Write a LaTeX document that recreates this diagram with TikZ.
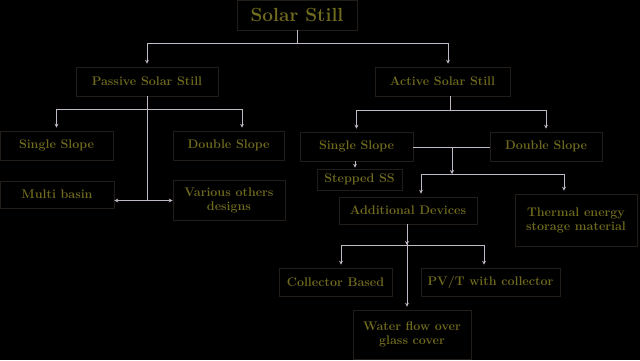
\documentclass[tikz,border=0pt]{standalone}
\usepackage{tikz}
\usetikzlibrary{arrows.meta}
\definecolor{txtolive}{RGB}{112,106,30}
\definecolor{boxedge}{RGB}{34,29,24}
\definecolor{linkgray}{RGB}{192,184,196}
\tikzset{
  stillbox/.style={draw=boxedge,line width=0.6pt,text=txtolive,inner sep=0pt,align=center,
    font=\fontsize{12.5}{14}\selectfont\bfseries},
  link/.style={draw=linkgray,line width=0.8pt},
  linkarrow/.style={link,-{Stealth[length=4pt,width=4pt]},shorten >=3pt}
}
\begin{document}
\begin{tikzpicture}[x=1pt,y=-1pt]
\fill[black] (0,0) rectangle (640,360);
\useasboundingbox (0,0) rectangle (640,360);
\node[stillbox,minimum width=120pt,minimum height=30pt,font=\fontsize{19}{22}\selectfont\bfseries] (still) at (297,15) {Solar Still};
\node[stillbox,minimum width=142pt,minimum height=29pt] (passive) at (147,81.5) {Passive Solar Still};
\node[stillbox,minimum width=135pt,minimum height=29pt] (active) at (442.5,81.5) {Active Solar Still};
\node[stillbox,minimum width=113pt,minimum height=29pt] (psingle) at (56.5,145.5) {Single Slope};
\node[stillbox,minimum width=111pt,minimum height=29pt] (pdouble) at (228.5,145.5) {Double Slope};
\node[stillbox,minimum width=114pt,minimum height=27pt] (multi) at (57,194.5) {Multi basin};
\node[stillbox,minimum width=112pt,minimum height=40pt] (various) at (229,200) {Various others\\designs};
\node[stillbox,minimum width=113pt,minimum height=29pt] (asingle) at (356.5,146.5) {Single Slope};
\node[stillbox,minimum width=112pt,minimum height=29pt] (adouble) at (546,146.5) {Double Slope};
\node[stillbox,minimum width=85pt,minimum height=21pt] (stepped) at (359.5,179.5) {Stepped SS};
\node[stillbox,minimum width=138pt,minimum height=27pt] (adddev) at (408,210.5) {Additional Devices};
\node[stillbox,minimum width=122pt,minimum height=52pt] (thermal) at (576,220) {Thermal energy\\storage material};
\node[stillbox,minimum width=113pt,minimum height=28pt] (collector) at (335.5,282) {Collector Based};
\node[stillbox,minimum width=139pt,minimum height=28pt] (pvt) at (490.5,282) {PV/T with collector};
\node[stillbox,minimum width=118pt,minimum height=49pt] (water) at (412,334.5) {Water flow over\\glass cover};
\coordinate (jtop) at (297,43);
\coordinate (jpass) at (147,109);
\coordinate (jside) at (147,200.5);
\coordinate (jact) at (450,110);
\coordinate (jslope) at (452,147);
\coordinate (jdev) at (452,174);
\coordinate (jadd) at (407,245);
\draw[link] (still.south) -- (jtop);
\draw[linkarrow] (jtop) -| (passive.north);
\draw[linkarrow] (jtop) -| ([xshift=5.5pt]active.north);
\draw[link] (passive.south) -- (jpass);
\draw[linkarrow] (jpass) -| (psingle.north);
\draw[linkarrow] (jpass) -| ([xshift=13.5pt]pdouble.north);
\draw[link] (jpass) -- (jside);
\draw[link,{Stealth[length=4pt,width=4pt]}-{Stealth[length=4pt,width=4pt]}] (multi.east |- jside) -- (various.west |- jside);
\draw[link] ([xshift=7.5pt]active.south) -- (jact);
\draw[linkarrow] (jact) -| (asingle.north);
\draw[linkarrow] (jact) -| (adouble.north);
\draw[link] (asingle.east |- jslope) -- (adouble.west |- jslope);
\draw[linkarrow,shorten >=0pt] (jslope) -- (jdev);
\draw[linkarrow] (jdev) -| ([xshift=13pt]adddev.north);
\draw[linkarrow] (jdev) -| ([xshift=-12pt]thermal.north);
\draw[linkarrow,shorten >=1pt] ([xshift=-1.5pt]asingle.south) -- ([xshift=-4.5pt]stepped.north);
\draw[linkarrow,shorten >=0pt] ([xshift=-1pt]adddev.south) -- (jadd);
\draw[linkarrow] (jadd) -| ([xshift=5.5pt]collector.north);
\draw[linkarrow] (jadd) -| ([xshift=-6.5pt]pvt.north);
\draw[linkarrow] ([xshift=-1pt]adddev.south) -- ([xshift=-5pt]water.north);
\end{tikzpicture}
\end{document}
